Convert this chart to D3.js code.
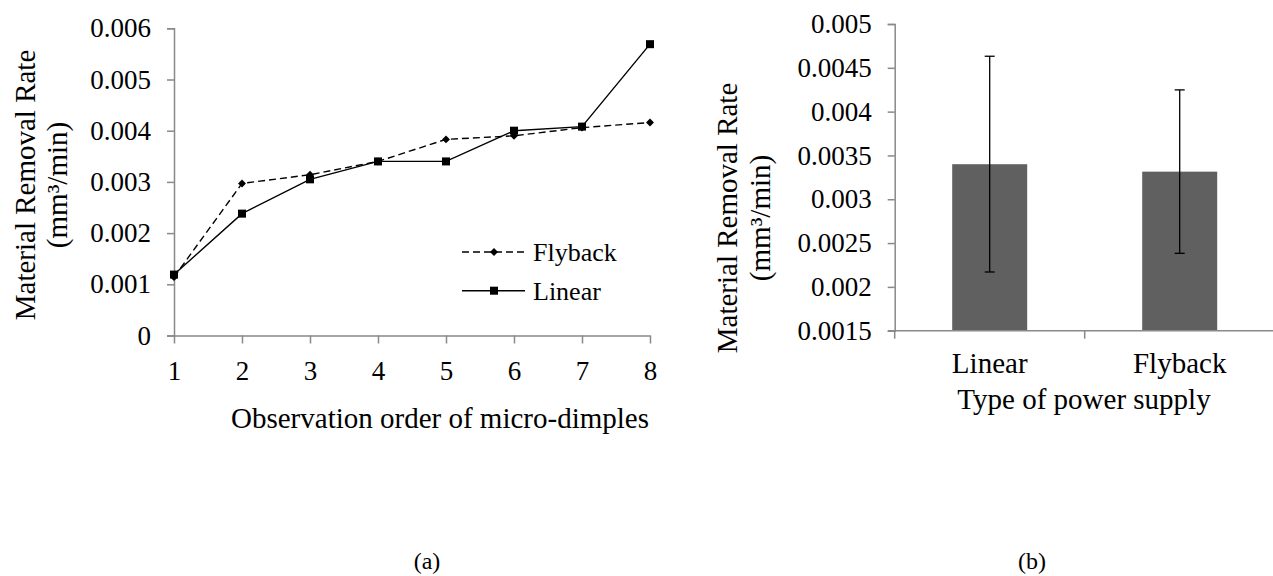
<!DOCTYPE html>
<html lang="en">
<head>
    <meta charset="UTF-8">
    <title>Material Removal Rate</title>
    <script src="https://d3js.org/d3.v7.min.js"></script>
    <style>
        body { margin: 0; background: #fff; }
        text { font-family: "Liberation Serif", "Times New Roman", serif; fill: #000; }
        .axis path, .axis line { stroke: #898989; stroke-width: 1.5; }
    </style>
</head>
<body>
    <div id="chart"></div>

    <script>
        // Data, panel (a)
        const orders = [1, 2, 3, 4, 5, 6, 7, 8];
        const flyback = [0.00114, 0.00297, 0.00314, 0.0034, 0.00383, 0.0039, 0.00406, 0.00416];
        const linear = [0.00119, 0.00238, 0.00305, 0.0034, 0.0034, 0.0040, 0.00408, 0.00569];
        const leftTicks = [0, 0.001, 0.002, 0.003, 0.004, 0.005, 0.006];

        // Data, panel (b)
        const supplies = ["Linear", "Flyback"];
        const meanRate = [0.0034, 0.003315];
        const errLow = [0.00217, 0.002383];
        const errHigh = [0.004632, 0.004248];
        const rightTicks = [0.0015, 0.002, 0.0025, 0.003, 0.0035, 0.004, 0.0045, 0.005];

        const svg = d3.select("#chart")
            .append("svg")
            .attr("width", 1273)
            .attr("height", 576);

        // ---------- panel (a): line chart ----------
        const xA = d3.scaleLinear().domain([1, 8]).range([174, 650]);
        const yA = d3.scaleLinear().domain([0, 0.006]).range([335.5, 28.3]);

        svg.append("g")
            .attr("class", "axis")
            .attr("transform", "translate(174,0)")
            .call(d3.axisLeft(yA).tickValues(leftTicks).tickSize(7).tickPadding(16)
                .tickFormat(d => d === 0 ? "0" : d3.format(".3f")(d)))
            .call(g => g.selectAll("text").style("font-size", "27px"));

        svg.append("g")
            .attr("class", "axis")
            .attr("transform", `translate(0,${yA(0)})`)
            .call(d3.axisBottom(xA).tickValues(orders).tickSize(8).tickPadding(17)
                .tickSizeOuter(0).tickFormat(d3.format("d")))
            .call(g => g.selectAll("text").style("font-size", "27px"));

        const line = d3.line()
            .x((d, i) => xA(orders[i]))
            .y(d => yA(d));

        svg.append("path")
            .datum(flyback)
            .attr("d", line)
            .attr("fill", "none")
            .attr("stroke", "#000")
            .attr("stroke-width", 1.4)
            .attr("stroke-dasharray", "7,4");

        svg.append("path")
            .datum(linear)
            .attr("d", line)
            .attr("fill", "none")
            .attr("stroke", "#000")
            .attr("stroke-width", 1.4);

        const diamond = d3.symbol().type(d3.symbolDiamond2).size(40);

        svg.selectAll(".pt-flyback")
            .data(flyback)
            .enter().append("path")
            .attr("class", "pt-flyback")
            .attr("d", diamond)
            .attr("transform", (d, i) => `translate(${xA(orders[i])},${yA(d)})`)
            .attr("fill", "#000");

        svg.selectAll(".pt-linear")
            .data(linear)
            .enter().append("rect")
            .attr("class", "pt-linear")
            .attr("x", (d, i) => xA(orders[i]) - 4)
            .attr("y", d => yA(d) - 4)
            .attr("width", 8)
            .attr("height", 8)
            .attr("fill", "#000");

        // legend
        const legend = svg.append("g").attr("transform", "translate(462,252)");
        legend.append("line")
            .attr("x1", 0).attr("x2", 63).attr("y1", 0).attr("y2", 0)
            .attr("stroke", "#000").attr("stroke-width", 1.4)
            .attr("stroke-dasharray", "7,4");
        legend.append("path")
            .attr("d", diamond)
            .attr("transform", "translate(32,0)")
            .attr("fill", "#000");
        legend.append("text")
            .attr("x", 71).attr("y", 9)
            .style("font-size", "26px")
            .text("Flyback");

        legend.append("line")
            .attr("x1", 0).attr("x2", 63).attr("y1", 38.7).attr("y2", 38.7)
            .attr("stroke", "#000").attr("stroke-width", 1.4);
        legend.append("rect")
            .attr("x", 28).attr("y", 34.7).attr("width", 8).attr("height", 8)
            .attr("fill", "#000");
        legend.append("text")
            .attr("x", 71).attr("y", 47.5)
            .style("font-size", "26px")
            .text("Linear");

        // axis titles
        const yTitleA = svg.append("text")
            .attr("transform", "translate(35,185) rotate(-90)")
            .attr("text-anchor", "middle")
            .style("font-size", "29px");
        yTitleA.append("tspan").attr("x", 0).attr("y", 0).text("Material Removal Rate");
        yTitleA.append("tspan").attr("x", 0).attr("y", 32).text("(mm³/min)");

        svg.append("text")
            .attr("x", 440).attr("y", 428)
            .attr("text-anchor", "middle")
            .style("font-size", "29px")
            .text("Observation order of micro-dimples");

        // ---------- panel (b): bar chart ----------
        const xB = d3.scaleBand().domain(supplies).range([894.7, 1274.7]).padding(0);
        const yB = d3.scaleLinear().domain([0.0015, 0.005]).range([330.7, 24]);
        const barW = 75;

        svg.append("g")
            .attr("class", "axis")
            .attr("transform", "translate(894.7,0)")
            .call(d3.axisLeft(yB).tickValues(rightTicks).tickSize(7).tickPadding(16)
                .tickFormat(d => String(+d.toFixed(4))))
            .call(g => g.selectAll("text").style("font-size", "27px"));

        svg.selectAll(".bar")
            .data(meanRate)
            .enter().append("rect")
            .attr("class", "bar")
            .attr("x", (d, i) => xB(supplies[i]) + (xB.bandwidth() - barW) / 2)
            .attr("y", d => yB(d))
            .attr("width", barW)
            .attr("height", d => yB.range()[0] - yB(d))
            .attr("fill", "#606060");

        // x axis with ticks on band edges
        const xAxisB = svg.append("g")
            .attr("class", "axis")
            .attr("transform", `translate(0,${yB.range()[0]})`)
            .call(d3.axisBottom(xB).tickSize(0).tickSizeOuter(0).tickPadding(22))
            .call(g => g.selectAll("text").style("font-size", "29px"));
        xAxisB.select(".domain").remove();
        xAxisB.append("line")
            .attr("x1", 888).attr("x2", 1274.7)
            .attr("stroke", "#898989").attr("stroke-width", 1.5);
        xAxisB.selectAll(".edge")
            .data(supplies.map(s => xB(s)).concat([xB.range()[1]]))
            .enter().append("line")
            .attr("class", "edge")
            .attr("x1", d => d).attr("x2", d => d)
            .attr("y1", 0).attr("y2", 8)
            .attr("stroke", "#898989").attr("stroke-width", 1.5);

        // error bars
        const cx = i => xB(supplies[i]) + xB.bandwidth() / 2;
        const errs = svg.selectAll(".err")
            .data(meanRate)
            .enter().append("g")
            .attr("class", "err")
            .attr("stroke", "#000")
            .attr("stroke-width", 1.3);
        errs.append("line")
            .attr("x1", (d, i) => cx(i)).attr("x2", (d, i) => cx(i))
            .attr("y1", (d, i) => yB(errHigh[i])).attr("y2", (d, i) => yB(errLow[i]));
        errs.append("line")
            .attr("x1", (d, i) => cx(i) - 5).attr("x2", (d, i) => cx(i) + 5)
            .attr("y1", (d, i) => yB(errHigh[i])).attr("y2", (d, i) => yB(errHigh[i]));
        errs.append("line")
            .attr("x1", (d, i) => cx(i) - 5).attr("x2", (d, i) => cx(i) + 5)
            .attr("y1", (d, i) => yB(errLow[i])).attr("y2", (d, i) => yB(errLow[i]));

        const yTitleB = svg.append("text")
            .attr("transform", "translate(737,218) rotate(-90)")
            .attr("text-anchor", "middle")
            .style("font-size", "29px");
        yTitleB.append("tspan").attr("x", 0).attr("y", 0).text("Material Removal Rate");
        yTitleB.append("tspan").attr("x", 0).attr("y", 33).text("(mm³/min)");

        svg.append("text")
            .attr("x", 1084).attr("y", 409)
            .attr("text-anchor", "middle")
            .style("font-size", "29px")
            .text("Type of power supply");

        // panel captions
        svg.append("text")
            .attr("x", 427).attr("y", 569)
            .attr("text-anchor", "middle")
            .style("font-size", "24px")
            .text("(a)");

        svg.append("text")
            .attr("x", 1032).attr("y", 569)
            .attr("text-anchor", "middle")
            .style("font-size", "24px")
            .text("(b)");
    </script>
</body>
</html>
